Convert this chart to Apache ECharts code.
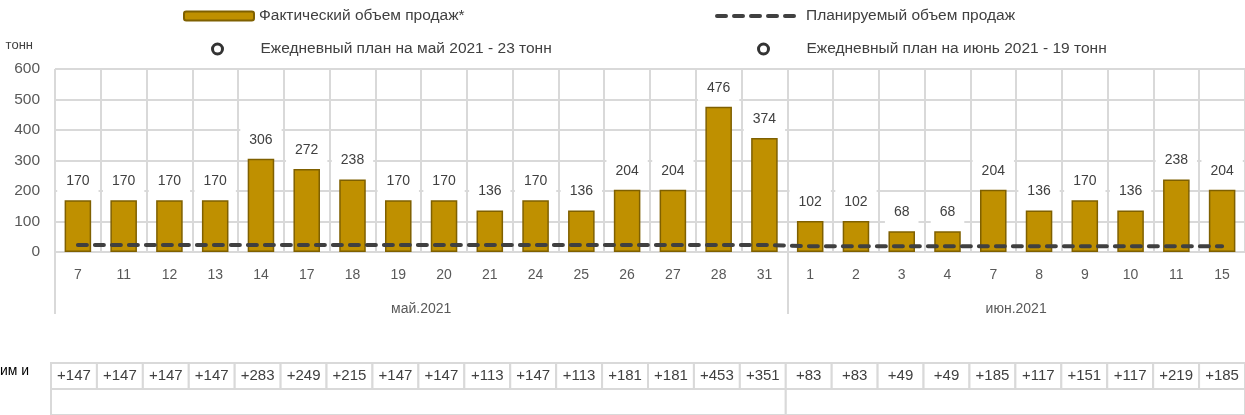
<!DOCTYPE html>
<html>
<head>
<meta charset="utf-8">
<script src="https://cdn.jsdelivr.net/npm/echarts@6/dist/echarts.min.js"></script>
<style>
  html, body { margin: 0; padding: 0; background: #fff; }
  #chart { width: 1245px; height: 415px; }
</style>
</head>
<body>
<div id="chart"></div>
<script>
// Trading days (May and June 2021)
const days = ['7','11','12','13','14','17','18','19','20','21','24','25','26','27','28','31',
              '1','2','3','4','7','8','9','10','11','15'];
// Month groups shown under the day labels
const months = ['май.2021', 'июн.2021'];
const monthSizes = [16, 10];
// Actual sales volume, tonnes
const sales = [170,170,170,170,306,272,238,170,170,136,170,136,204,204,476,374,
               102,102,68,68,204,136,170,136,238,204];
// Planned daily volume, tonnes
const plan = [23,23,23,23,23,23,23,23,23,23,23,23,23,23,23,23,
              19,19,19,19,19,19,19,19,19,19];
// Excess over plan, tonnes
const deltas = [147,147,147,147,283,249,215,147,147,113,147,113,181,181,453,351,
                83,83,49,49,185,117,151,117,219,185];
// Value axis ticks
const yTicks = { min: 0, max: 600, step: 100 };

const FONT = "'Liberation Sans', Arial, sans-serif";
const TEXT = '#404040';
const GRID = '#d9d9d9';
const GOLD = '#bf9000';
const GOLD_EDGE = '#7f6000';
const PLAN_LINE = { color: '#404040', width: 4, type: [9, 8], cap: 'round' };
const RING = { color: '#fff', borderColor: '#000', borderWidth: 3 };

const nameActual = 'Фактический объем продаж*';
const namePlan = 'Планируемый объем продаж';
const nameMay = 'Ежедневный план на май 2021 - 23 тонн';
const nameJun = 'Ежедневный план на июнь 2021 - 19 тонн';

// Boundaries and centres of the month groups, in category units
const monthEdges = [0];
monthSizes.forEach(n => monthEdges.push(monthEdges[monthEdges.length - 1] + n));
const monthCentres = months.map((m, i) => (monthEdges[i] + monthEdges[i + 1]) / 2);
const monthSpans = months.map((m, i) => [monthEdges[i], monthEdges[i + 1] - 1]);

const chart = echarts.init(document.getElementById('chart'), null, { renderer: 'canvas' });

const legendText = { color: TEXT, fontSize: 15.5, fontFamily: FONT };

const option = {
  animation: false,
  textStyle: { fontFamily: FONT },
  legend: [
    { data: [nameActual], left: 178, top: 3, itemWidth: 70, itemHeight: 9, itemGap: 0,
      selectedMode: false, textStyle: legendText },
    { data: [namePlan], left: 710, top: 3, itemWidth: 84, itemHeight: 10, itemGap: 0,
      selectedMode: false, textStyle: legendText,
      itemStyle: { opacity: 0 }, lineStyle: PLAN_LINE },
    { data: [nameMay], left: 206, top: 36, icon: 'circle', itemWidth: 10, itemHeight: 10,
      selectedMode: false, itemStyle: RING,
      textStyle: Object.assign({ padding: [0, 0, 0, 33] }, legendText) },
    { data: [nameJun], left: 752, top: 36, icon: 'circle', itemWidth: 10, itemHeight: 10,
      selectedMode: false, itemStyle: RING,
      textStyle: Object.assign({ padding: [0, 0, 0, 33] }, legendText) }
  ],
  grid: [
    { left: 55, top: 69, width: 1199, height: 183 },
    { left: 51, top: 363, width: 1200, height: 82 }
  ],
  xAxis: [
    {
      type: 'category', gridIndex: 0, data: days,
      axisLine: { lineStyle: { color: GRID, width: 2 } },
      axisTick: { show: false },
      axisLabel: { color: '#595959', fontSize: 14, margin: 16, interval: 0 },
      splitLine: { show: true, interval: 0, lineStyle: { color: GRID, width: 2 } }
    },
    {
      // month grouping row under the day labels
      type: 'value', gridIndex: 0, position: 'bottom', min: 0, max: days.length,
      axisLine: { show: false },
      splitLine: { show: false },
      axisTick: { show: true, customValues: monthEdges.slice(0, -1), length: 62,
                  lineStyle: { color: GRID, width: 2 } },
      axisLabel: { customValues: monthCentres, margin: 50, color: '#595959', fontSize: 14,
                   formatter: v => months[monthCentres.indexOf(v)] }
    },
    {
      type: 'category', gridIndex: 1, data: days, show: false
    }
  ],
  yAxis: [
    {
      type: 'value', gridIndex: 0, min: yTicks.min, max: yTicks.max, interval: yTicks.step,
      name: 'тонн', nameLocation: 'end', nameGap: 17,
      nameTextStyle: { color: TEXT, fontSize: 13, align: 'right', padding: [0, 22, 0, 0] },
      axisLine: { show: false },
      axisTick: { show: false },
      axisLabel: { color: '#595959', fontSize: 15.5, margin: 15 },
      splitLine: { lineStyle: { color: GRID, width: 2 } }
    },
    { type: 'value', gridIndex: 1, min: 0, max: 2, inverse: true, show: false }
  ],
  series: [
    {
      name: nameActual, type: 'bar', xAxisIndex: 0, yAxisIndex: 0, data: sales,
      barWidth: '58%', z: 3,
      itemStyle: { color: GOLD, borderColor: GOLD_EDGE, borderWidth: 1.5 },
      label: {
        show: true, position: 'top', distance: 6, color: TEXT, fontSize: 14,
        backgroundColor: '#fff', padding: [6, 9]
      }
    },
    {
      name: namePlan, type: 'line', xAxisIndex: 0, yAxisIndex: 0, data: plan,
      symbol: 'none', z: 4,
      lineStyle: PLAN_LINE,
      itemStyle: { color: '#404040' }
    },
    {
      name: nameMay, type: 'scatter', xAxisIndex: 0, yAxisIndex: 0, data: [],
      itemStyle: RING
    },
    {
      name: nameJun, type: 'scatter', xAxisIndex: 0, yAxisIndex: 0, data: [],
      itemStyle: RING
    },
    {
      // excess-over-plan cells, one per day
      type: 'custom', xAxisIndex: 2, yAxisIndex: 1, data: deltas.map((d, i) => [i, d]),
      clip: false, silent: true,
      renderItem: (params, api) => {
        const i = params.dataIndex;
        const w = api.size([1, 0])[0];
        const p0 = api.coord([i, 0]);
        const p1 = api.coord([i, 1]);
        const x = p0[0] - w / 2;
        return {
          type: 'group',
          children: [
            { type: 'rect', shape: { x: x, y: p0[1], width: w, height: p1[1] - p0[1] },
              style: { fill: '#fff', stroke: GRID, lineWidth: 2 } },
            { type: 'text', style: { text: '+' + deltas[i], x: p0[0], y: (p0[1] + p1[1]) / 2,
                align: 'center', verticalAlign: 'middle', fill: TEXT, fontSize: 15, fontFamily: FONT } }
          ]
        };
      }
    },
    {
      // merged month cells below the daily row
      type: 'custom', xAxisIndex: 2, yAxisIndex: 1, data: monthSpans,
      clip: false, silent: true,
      renderItem: (params, api) => {
        const span = monthSpans[params.dataIndex];
        const w = api.size([1, 0])[0];
        const a = api.coord([span[0], 1]);
        const b = api.coord([span[1], 2]);
        return {
          type: 'rect',
          shape: { x: a[0] - w / 2, y: a[1], width: b[0] - a[0] + w, height: b[1] - a[1] },
          style: { fill: '#fff', stroke: GRID, lineWidth: 2 }
        };
      }
    }
  ],
  graphic: [
    { type: 'text', left: 0, top: 364,
      style: { text: 'им и', fill: '#000', fontSize: 14, fontFamily: FONT } }
  ]
};

chart.setOption(option);
</script>
</body>
</html>
